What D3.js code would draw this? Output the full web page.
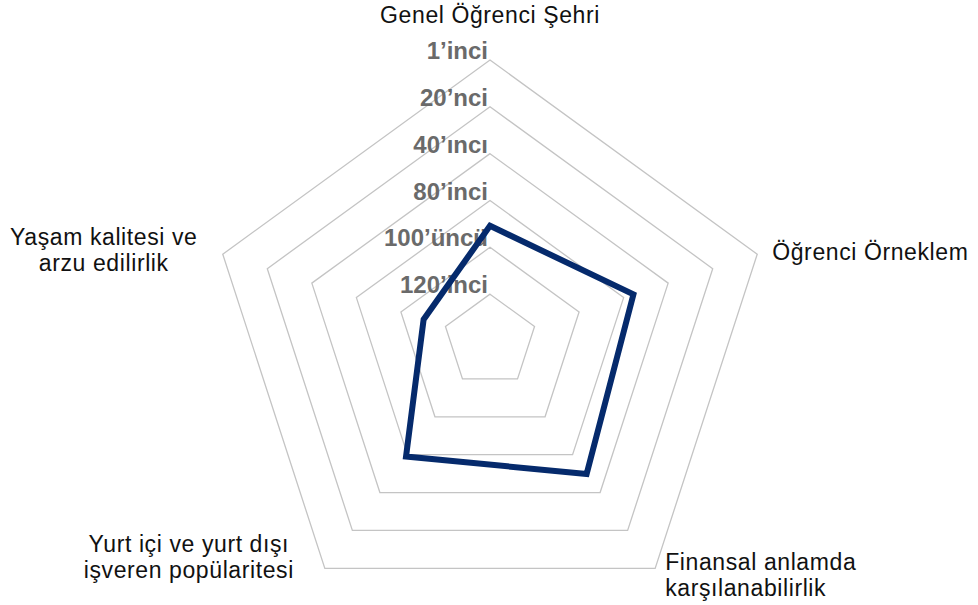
<!DOCTYPE html>
<html>
<head>
<meta charset="utf-8">
<script src="https://cdn.jsdelivr.net/npm/d3@7"></script>
<style>
	body{margin:0;background:#fff;}
	#plot{width:978px;height:605px;}
</style>
</head>
<body>
<div id="plot"></div>
<script>
//axes, clockwise from the top
var axes = [
	['Genel Öğrenci Şehri'],
	['Öğrenci Örneklem'],
	['Finansal anlamda','karşılanabilirlik'],
	['Yurt içi ve yurt dışı','işveren popülaritesi'],
	['Yaşam kalitesi ve','arzu edilirlik']
];
//score on the ring scale (0 = centre, 6 = outer ring)
var values = [2.46, 3.22, 3.51, 3.05, 1.49];
//ring labels, inner ring first
var rings = [1,2,3,4,5,6];
var ringLabels = ['120’inci','100’üncü','80’inci','40’ıncı','20’nci','1’inci'];

var W = 978, H = 605,
	cx = 490, cy = 341,
	R = 281;

var svg = d3.select('#plot').append('svg')
	.attr('width',W).attr('height',H);

var g = svg.append('g')
	.attr('transform','translate('+cx+','+cy+')');

var r = d3.scaleLinear().domain([0,6]).range([0,R]);
var angle = d3.scaleLinear().domain([0,axes.length]).range([0,2*Math.PI]);

var radial = d3.lineRadial()
	.angle(function(d,i){return angle(i)})
	.radius(function(d){return r(d)})
	.curve(d3.curveLinearClosed);

//grid pentagons
g.selectAll('.ring').data(rings).enter().append('path')
	.attr('class','ring')
	.attr('d',function(k){return radial(axes.map(function(){return k}))})
	.style('fill','none').style('stroke','#c4c4c4').style('stroke-width','1.3px');

//ring labels, sitting on the top vertex of each ring
g.selectAll('.ringLabel').data(rings).enter().append('text')
	.attr('class','ringLabel')
	.attr('x',-2)
	.attr('y',function(k){return -r(k)-1})
	.attr('text-anchor','end')
	.style('font-family','"Liberation Sans", Arial, sans-serif')
	.style('font-weight','bold')
	.style('font-size','24px')
	.style('fill','#6a6a6a')
	.text(function(k,i){return ringLabels[i]});

//data polygon
g.append('path').datum(values)
	.attr('d',radial)
	.style('fill','none').style('stroke','#052a6c').style('stroke-width','6px')
	.style('stroke-linejoin','miter');

//axis labels, placed relative to the outer vertex
var labelPos = [
	{anchor:'middle',dx:0,dy:-37},
	{anchor:'start',dx:15,dy:6},
	{anchor:'start',dx:10,dy:2},
	{anchor:'middle',dx:-136,dy:-16},
	{anchor:'middle',dx:-119,dy:-9}
];

axes.forEach(function(lines,i){
	var a = angle(i),
		x = Math.sin(a)*r(6),
		y = -Math.cos(a)*r(6),
		p = labelPos[i];
	var t = g.append('text')
		.attr('text-anchor',p.anchor)
		.style('font-family','"Liberation Sans", Arial, sans-serif')
		.style('font-size','23px')
		.style('letter-spacing','0.6px')
		.style('fill','#111');
	lines.forEach(function(s,j){
		t.append('tspan')
			.attr('x',x+p.dx)
			.attr('y',y+p.dy+j*25.5)
			.text(s);
	});
});
</script>
</body>
</html>
